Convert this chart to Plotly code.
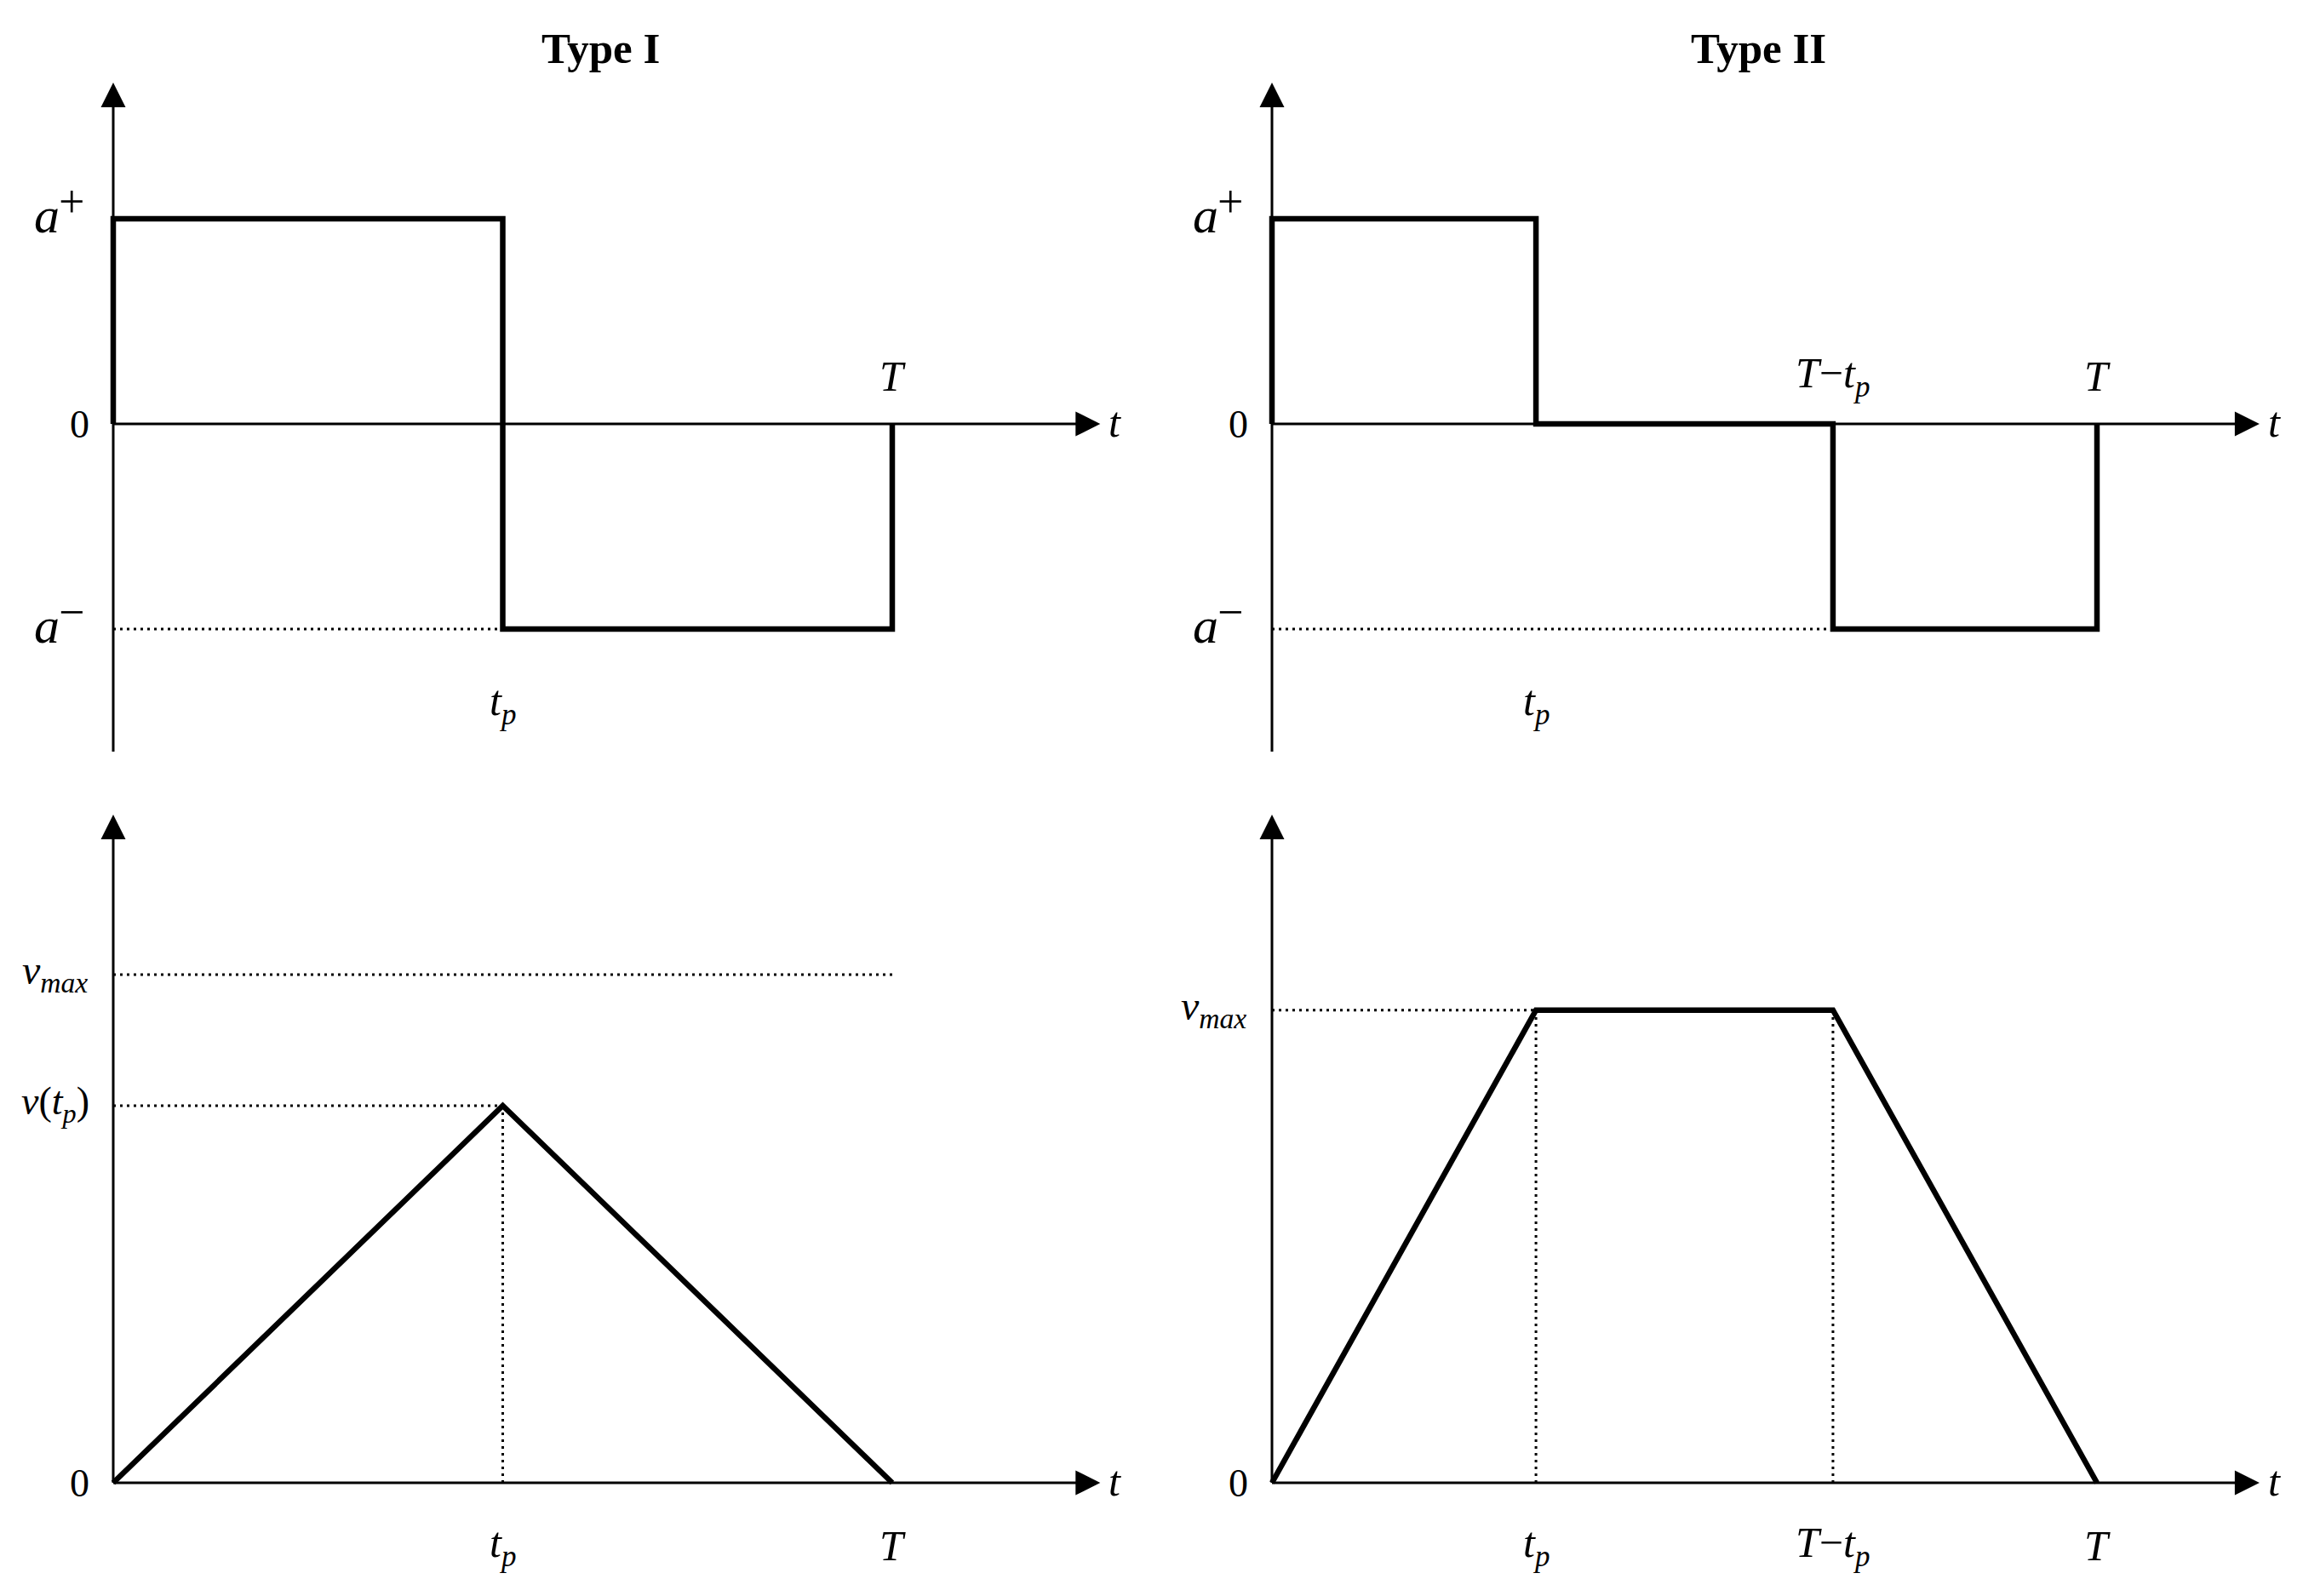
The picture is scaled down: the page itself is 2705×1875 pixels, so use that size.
import plotly.graph_objects as go

# ---------------- data (normalised units) ----------------
T = 1.0
tp_I = 0.5          # switching time, Type I
tp_II = 0.32        # switching time, Type II
a_plus = 1.0
a_minus = -1.0
vmax_I = 1.0        # v_max level drawn in Type I
v_tp_I = 0.742      # v(t_p) peak, Type I
vmax_II = 0.93      # v_max plateau, Type II

accI_t = [0, 0, tp_I, tp_I, T, T]
accI_a = [0, a_plus, a_plus, a_minus, a_minus, 0]
accII_t = [0, 0, tp_II, tp_II, T - tp_II, T - tp_II, T, T]
accII_a = [0, a_plus, a_plus, 0, 0, a_minus, a_minus, 0]
velI_t = [0, tp_I, T]
velI_v = [0, v_tp_I, 0]
velII_t = [0, tp_II, T - tp_II, T]
velII_v = [0, vmax_II, vmax_II, 0]

titles = ["Type I", "Type II"]

# ---------------- layout geometry ----------------
W, H = 2705, 1875
FONT = "Liberation Serif"

def xrange_for(dom, x0px, x1px, x1val):
    s = (x1px - x0px) / x1val
    return [(dom[0] * W - x0px) / s, (dom[1] * W - x0px) / s]

def yrange_for(dom, y0px, y1px, y1val):
    s = (y0px - y1px) / y1val
    return [(y0px - (1 - dom[0]) * H) / s, (y0px - (1 - dom[1]) * H) / s]

domL, domR = [0.0, 0.5], [0.5, 1.0]
domT, domB = [0.5, 1.0], [0.0, 0.5]
xrL = xrange_for(domL, 133, 1048, T)
xrR = xrange_for(domR, 1494, 2463, T)
yrT = yrange_for(domT, 498, 257, a_plus)
yrB = yrange_for(domB, 1742, 1145, vmax_I)

top_ytip, top_ybot = 1.664, -1.598
bot_ytip = 1.315
xtip_I, xtip_II = 1.267, 1.197

fig = go.Figure()
ann = []

AX_W = 3
SIG_W = 6.5
DOT = dict(color="black", width=3, dash="3px,5px")

def line(xa, ya, xs, ys, **style):
    fig.add_trace(go.Scatter(x=xs, y=ys, xaxis=xa, yaxis=ya, mode="lines",
                             line=style, hoverinfo="skip", showlegend=False))

def arrow(xa, ya, x, y, sym):
    fig.add_trace(go.Scatter(x=[x], y=[y], xaxis=xa, yaxis=ya, mode="markers",
                             marker=dict(symbol=sym, size=29, color="black",
                                         line=dict(width=0)),
                             cliponaxis=False, hoverinfo="skip", showlegend=False))

def label(xa, ya, x, y, text, size, xanchor="center", yanchor="middle",
          xshift=0, yshift=0):
    ann.append(dict(x=x, y=y, xref=xa, yref=ya, text=text, showarrow=False,
                    xanchor=xanchor, yanchor=yanchor, xshift=xshift, yshift=yshift,
                    font=dict(family=FONT, size=size, color="black")))

def axes(xa, ya, xtip, ytip, ybot):
    line(xa, ya, [0, 0], [ybot, ytip - 0.02], color="black", width=AX_W)
    line(xa, ya, [0, xtip - 0.01], [0, 0], color="black", width=AX_W)
    arrow(xa, ya, 0, ytip, "arrow-up")
    arrow(xa, ya, xtip, 0, "arrow-right")
    label(xa, ya, xtip, 0, "<i>t</i>", 50, xanchor="left", xshift=8, yshift=2)

def a_label(xa, ya, y, sign):
    # italic "a" with a full-size raised sign
    label(xa, ya, 0, y, "<i>a</i>", 60, xanchor="left", xshift=-95, yshift=4)
    label(xa, ya, 0, y, sign, 54, xanchor="left", xshift=-66, yshift=20)

TP = "<i>t</i><sub><i>p</i></sub>"
TT = "<i>T</i>"
TMTP = "<i>T</i>−<i>t</i><sub><i>p</i></sub>"

# ---- Type I, acceleration ----
xa, ya = "x", "y"
axes(xa, ya, xtip_I, top_ytip, top_ybot)
line(xa, ya, [0, tp_I], [a_minus, a_minus], **DOT)
line(xa, ya, accI_t, accI_a, color="black", width=SIG_W)
a_label(xa, ya, a_plus, "+")
label(xa, ya, 0, 0, "0", 46, xanchor="right", xshift=-26)
a_label(xa, ya, a_minus, "−")
label(xa, ya, T, 0, TT, 50, yshift=56)
label(xa, ya, tp_I, a_minus, TP, 50, yshift=-88)

# ---- Type II, acceleration ----
xa, ya = "x2", "y2"
axes(xa, ya, xtip_II, top_ytip, top_ybot)
line(xa, ya, [0, T - tp_II], [a_minus, a_minus], **DOT)
line(xa, ya, accII_t, accII_a, color="black", width=SIG_W)
a_label(xa, ya, a_plus, "+")
label(xa, ya, 0, 0, "0", 46, xanchor="right", xshift=-26)
a_label(xa, ya, a_minus, "−")
label(xa, ya, T - tp_II, 0, TMTP, 50, yshift=56)
label(xa, ya, T, 0, TT, 50, yshift=56)
label(xa, ya, tp_II, a_minus, TP, 50, yshift=-88)

# ---- Type I, velocity ----
xa, ya = "x3", "y3"
axes(xa, ya, xtip_I, bot_ytip, 0)
line(xa, ya, [0, T], [vmax_I, vmax_I], **DOT)
line(xa, ya, [0, tp_I], [v_tp_I, v_tp_I], **DOT)
line(xa, ya, [tp_I, tp_I], [0, v_tp_I], **DOT)
line(xa, ya, velI_t, velI_v, color="black", width=SIG_W)
label(xa, ya, 0, vmax_I, "<i>v</i><sub><i>max</i></sub>", 48, xanchor="right", xshift=-28, yshift=2)
label(xa, ya, 0, v_tp_I, "<i>v</i>(<i>t</i><sub><i>p</i></sub>)", 46, xanchor="right", xshift=-26, yshift=2)
label(xa, ya, 0, 0, "0", 46, xanchor="right", xshift=-26)
label(xa, ya, tp_I, 0, TP, 50, yshift=-74)
label(xa, ya, T, 0, TT, 50, yshift=-74)

# ---- Type II, velocity ----
xa, ya = "x4", "y4"
axes(xa, ya, xtip_II, bot_ytip, 0)
line(xa, ya, [0, tp_II], [vmax_II, vmax_II], **DOT)
line(xa, ya, [tp_II, tp_II], [0, vmax_II], **DOT)
line(xa, ya, [T - tp_II, T - tp_II], [0, vmax_II], **DOT)
line(xa, ya, velII_t, velII_v, color="black", width=SIG_W)
label(xa, ya, 0, vmax_II, "<i>v</i><sub><i>max</i></sub>", 48, xanchor="right", xshift=-28, yshift=2)
label(xa, ya, 0, 0, "0", 46, xanchor="right", xshift=-26)
label(xa, ya, tp_II, 0, TP, 50, yshift=-74)
label(xa, ya, T - tp_II, 0, TMTP, 50, yshift=-74)
label(xa, ya, T, 0, TT, 50, yshift=-74)

# titles
for txt, xp in zip(titles, [705 / W, 2065 / W]):
    ann.append(dict(x=xp, y=1 - 57 / H, xref="paper", yref="paper",
                    text="<b>" + txt + "</b>", showarrow=False,
                    xanchor="center", yanchor="middle",
                    font=dict(family=FONT, size=51, color="black")))

hidden = dict(visible=False, showgrid=False, zeroline=False, fixedrange=True)
fig.update_layout(
    width=W, height=H,
    margin=dict(l=0, r=0, t=0, b=0),
    paper_bgcolor="white", plot_bgcolor="white",
    showlegend=False,
    annotations=ann,
    xaxis=dict(domain=domL, range=xrL, anchor="y", **hidden),
    yaxis=dict(domain=domT, range=yrT, anchor="x", **hidden),
    xaxis2=dict(domain=domR, range=xrR, anchor="y2", **hidden),
    yaxis2=dict(domain=domT, range=yrT, anchor="x2", **hidden),
    xaxis3=dict(domain=domL, range=xrL, anchor="y3", **hidden),
    yaxis3=dict(domain=domB, range=yrB, anchor="x3", **hidden),
    xaxis4=dict(domain=domR, range=xrR, anchor="y4", **hidden),
    yaxis4=dict(domain=domB, range=yrB, anchor="x4", **hidden),
)

fig.write_html("out.html",
               config={"displayModeBar": False},
               post_script="document.body.style.margin='0';document.body.style.overflow='hidden';")
